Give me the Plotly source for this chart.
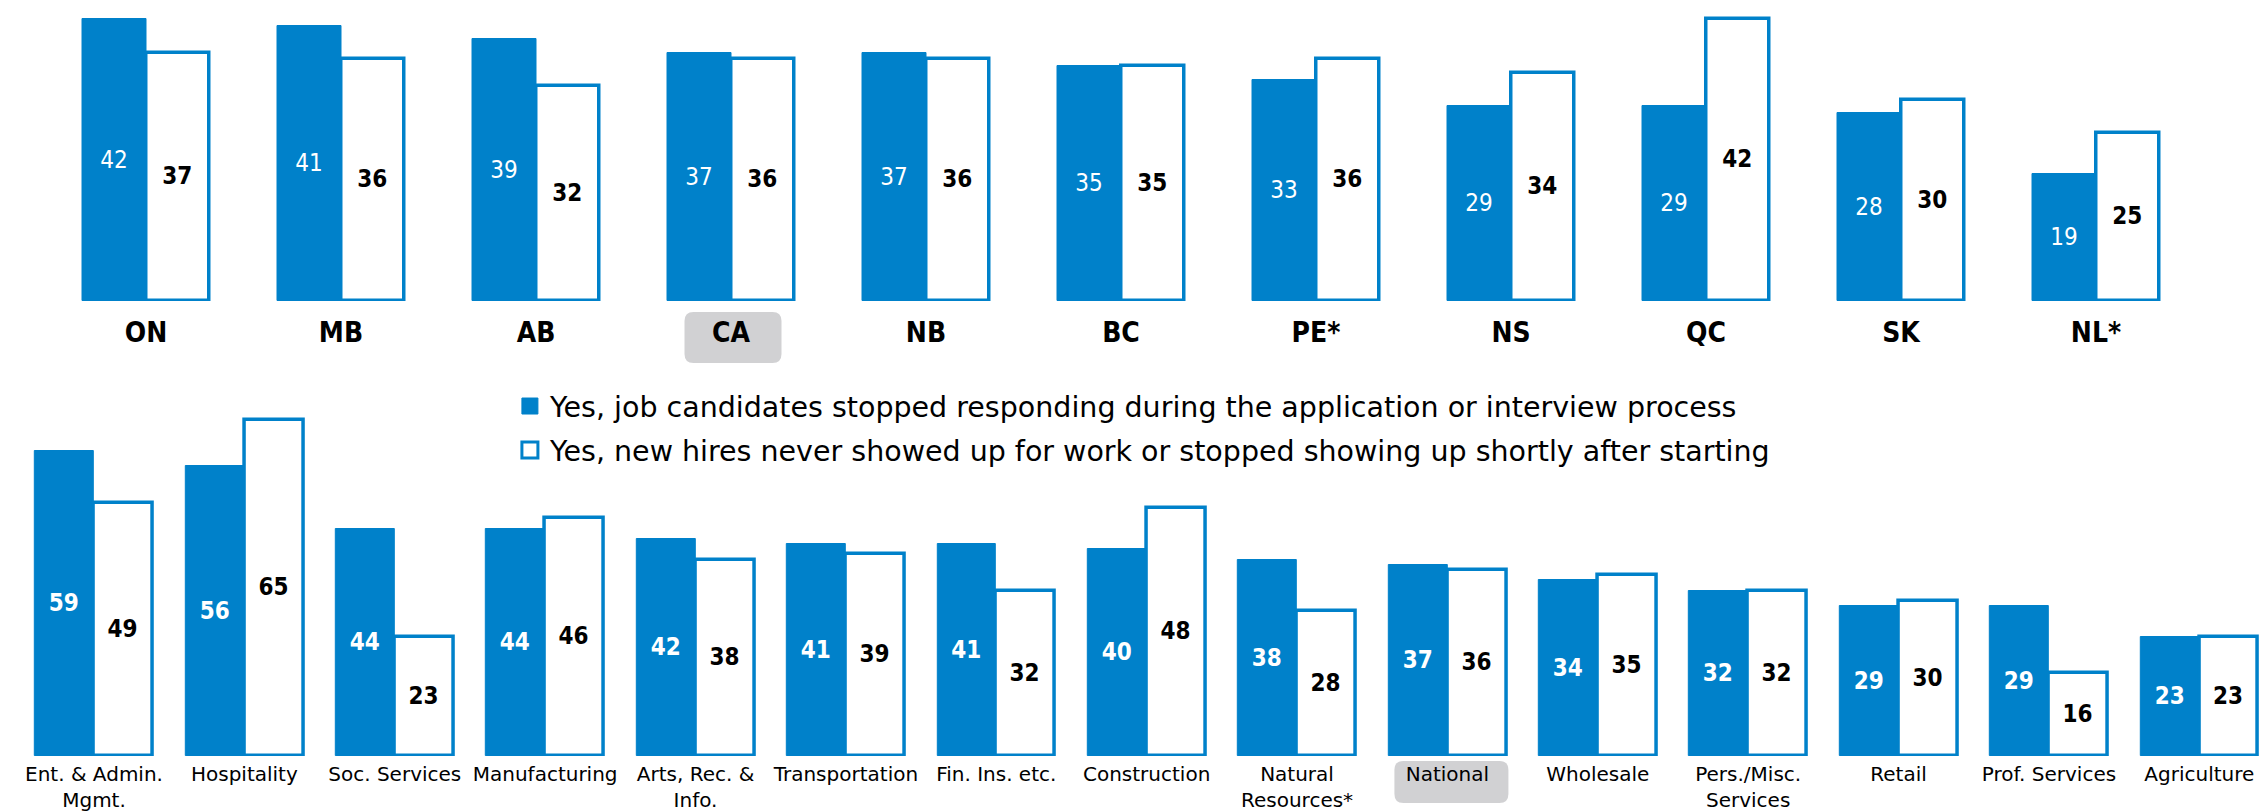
import plotly.graph_objects as go

# ---------------- data ----------------
provinces = ['ON', 'MB', 'AB', 'CA', 'NB', 'BC', 'PE*', 'NS', 'QC', 'SK', 'NL*']
prov_candidates = [42, 41, 39, 37, 37, 35, 33, 29, 29, 28, 19]
prov_newhires = [37, 36, 32, 36, 36, 35, 36, 34, 42, 30, 25]

sectors = ['Ent. & Admin.<br>Mgmt.', 'Hospitality', 'Soc. Services', 'Manufacturing',
           'Arts, Rec. &<br>Info.', 'Transportation', 'Fin. Ins. etc.', 'Construction',
           'Natural<br>Resources*', 'National', 'Wholesale', 'Pers./Misc.<br>Services',
           'Retail', 'Prof. Services', 'Agriculture']
sec_candidates = [59, 56, 44, 44, 42, 41, 41, 40, 38, 37, 34, 32, 29, 29, 23]
sec_newhires = [49, 65, 23, 46, 38, 39, 32, 48, 28, 36, 35, 32, 30, 16, 23]

series_names = ['Yes, job candidates stopped responding during the application or interview process',
                'Yes, new hires never showed up for work or stopped showing up shortly after starting']
highlight_top = 'CA'
highlight_bottom = 'National'

# ---------------- style ----------------
W, H = 2267, 811
BLUE = '#0081CA'
FONT_C = 'DejaVu Sans Condensed'
FONT = 'DejaVu Sans'
GREY = '#D1D1D3'

top_dom_x = [40.5 / W, 2185.5 / W]
bot_dom_x = [10.8 / W, 2266.5 / W]
top_dom_y = [1 - 293 / H, 1 - 5 / H]
bot_dom_y = [1 - 748 / H, 1 - 400 / H]
top_range = [0, 288 / 6.71]
bot_range = [0, 348 / 5.17]
w_top = 0.328
w_bot = 0.392

fig = go.Figure()


def add_pair(cats, filled, outline, xa, ya, w, white_bold):
    fig.add_trace(go.Bar(
        x=cats, y=filled, name=series_names[0], xaxis=xa, yaxis=ya,
        width=w, offset=-w, marker=dict(color=BLUE, line=dict(color=BLUE, width=1)),
        text=[str(v) for v in filled], textposition='inside', insidetextanchor='middle',
        textangle=0, constraintext='none',
        insidetextfont=dict(family=FONT_C, size=24, color='white',
                            weight='bold' if white_bold else 'normal'),
        showlegend=False, hoverinfo='x+y'))
    fig.add_trace(go.Bar(
        x=cats, y=outline, name=series_names[1], xaxis=xa, yaxis=ya,
        width=w, offset=0, marker=dict(color='white', line=dict(color=BLUE, width=3.5)),
        text=[str(v) for v in outline], textposition='inside', insidetextanchor='middle',
        textangle=0, constraintext='none',
        insidetextfont=dict(family=FONT_C, size=24, color='black', weight='bold'),
        showlegend=False, hoverinfo='x+y'))


add_pair(provinces, prov_candidates, prov_newhires, 'x', 'y', w_top, False)
add_pair(sectors, sec_candidates, sec_newhires, 'x2', 'y2', w_bot, True)

# legend entries (larger square symbols than bar legend glyphs)
fig.add_trace(go.Scatter(x=[provinces[0]], y=[None], mode='markers', name=series_names[0],
                         marker=dict(symbol='square', size=16, color=BLUE,
                                     line=dict(color=BLUE, width=1)),
                         legendgroup='a', hoverinfo='skip'))
fig.add_trace(go.Scatter(x=[provinces[0]], y=[None], mode='markers', name=series_names[1],
                         marker=dict(symbol='square', size=16, color='white',
                                     line=dict(color=BLUE, width=3)),
                         legendgroup='b', hoverinfo='skip'))


def rounded_rect(cx, cy, bw, bh, r):
    x0, x1 = (cx - bw / 2) / W, (cx + bw / 2) / W
    y0, y1 = 1 - (cy + bh / 2) / H, 1 - (cy - bh / 2) / H
    rx, ry = r / W, r / H
    return (f'M {x0+rx},{y0} L {x1-rx},{y0} Q {x1},{y0} {x1},{y0+ry} '
            f'L {x1},{y1-ry} Q {x1},{y1} {x1-rx},{y1} L {x0+rx},{y1} '
            f'Q {x0},{y1} {x0},{y1-ry} L {x0},{y0+ry} Q {x0},{y0} {x0+rx},{y0} Z')


def cat_center_px(cats, name, dom):
    i = cats.index(name)
    return (dom[0] + (i + 0.5) / len(cats) * (dom[1] - dom[0])) * W


shapes = [
    dict(type='path', xref='paper', yref='paper', layer='below',
         path=rounded_rect(cat_center_px(provinces, highlight_top, top_dom_x) + 2, 329.5, 97, 51, 9),
         fillcolor=GREY, line=dict(width=0)),
    dict(type='path', xref='paper', yref='paper', layer='below',
         path=rounded_rect(cat_center_px(sectors, highlight_bottom, bot_dom_x) + 4, 774, 114, 42, 9),
         fillcolor=GREY, line=dict(width=0)),
]

fig.update_layout(
    width=W, height=H, margin=dict(l=0, r=0, t=0, b=0),
    paper_bgcolor='white', plot_bgcolor='white',
    font=dict(family=FONT, color='black'),
    barmode='group', bargap=0, bargroupgap=0,
    shapes=shapes,
    xaxis=dict(domain=top_dom_x, anchor='y', showgrid=False, zeroline=False, showline=False,
               range=[-0.5, len(provinces) - 0.5], fixedrange=True,
               ticks='', tickfont=dict(family=FONT_C, size=28, color='black', weight='bold'),
               ticklabelstandoff=12),
    yaxis=dict(domain=top_dom_y, anchor='x', range=top_range, visible=False),
    xaxis2=dict(domain=bot_dom_x, anchor='y2', showgrid=False, zeroline=False, showline=False,
                range=[-0.5, len(sectors) - 0.5], fixedrange=True,
                ticks='', tickfont=dict(family=FONT, size=20, color='black'),
                ticklabelstandoff=4),
    yaxis2=dict(domain=bot_dom_y, anchor='x2', range=bot_range, visible=False),
    legend=dict(x=0.2214, xanchor='left', y=1 - 373 / H, yanchor='top',
                font=dict(family=FONT, size=28.5, color='black'),
                bgcolor='rgba(0,0,0,0)', tracegroupgap=4, itemwidth=30),
)

fig.write_html('out.html')
